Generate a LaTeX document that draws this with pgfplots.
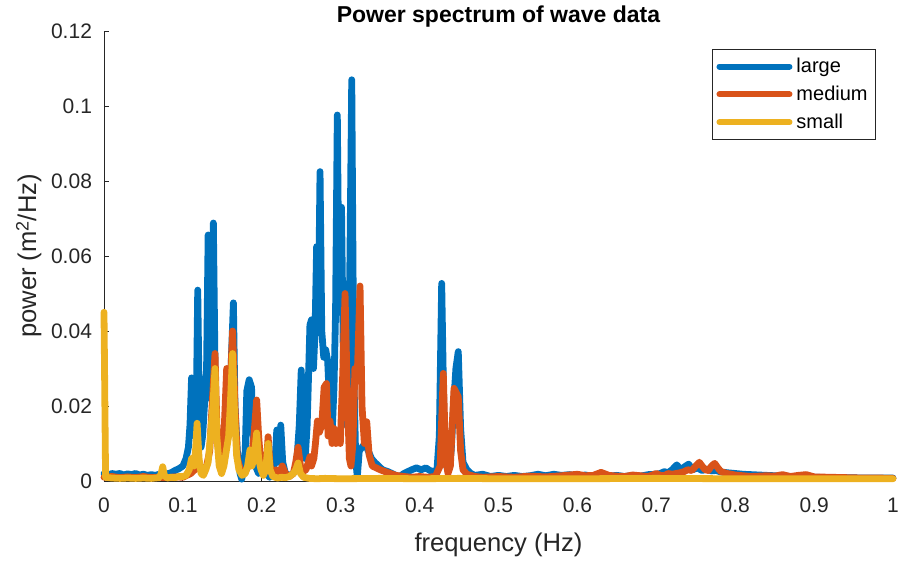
\documentclass[border=0pt]{standalone}
\usepackage{pgfplots}
\pgfplotsset{compat=1.18}
\usepackage{fontspec}
\setmainfont{Liberation Sans}
\definecolor{mblue}{HTML}{0072BD}
\definecolor{morange}{HTML}{D95319}
\definecolor{myellow}{HTML}{EDB120}
\definecolor{axgray}{HTML}{262626}
\begin{document}
\begin{tikzpicture}
\begin{axis}[
  scale only axis,
  width=394.5pt, height=225pt,
  xmin=0, xmax=1, ymin=0, ymax=0.12,
  clip=false,
  axis lines=left,
  axis line style={-, axgray, line width=0.4pt},
  tick align=inside,
  major tick length=2.5pt,
  tick style={axgray, line width=0.4pt},
  xtick={0,0.1,0.2,0.3,0.4,0.5,0.6,0.7,0.8,0.9,1},
  xticklabels={0,0.1,0.2,0.3,0.4,0.5,0.6,0.7,0.8,0.9,1},
  ytick={0,0.02,0.04,0.06,0.08,0.1,0.12},
  yticklabels={0,0.02,0.04,0.06,0.08,0.1,0.12},
  tick label style={font=\fontsize{10.5}{12}\selectfont, text=axgray},
  /pgf/number format/assume math mode=true,
  xticklabel style={yshift=-5pt},
  yticklabel style={xshift=-2.5pt},
  title={\bfseries Power spectrum of wave data},
  title style={font=\fontsize{11.5}{13}\selectfont, yshift=-7.5pt},
  xlabel={frequency (Hz)},
  ylabel={power (m\raisebox{0.55ex}{\fontsize{9}{9}\selectfont 2}/Hz)},
  label style={font=\fontsize{12.8}{14}\selectfont, text=axgray},
  xlabel style={yshift=-3.2pt},
  ylabel style={yshift=-2pt},
  legend style={at={(1,1)}, anchor=north east, xshift=-8.5pt, yshift=-9.2pt,
    draw=axgray, line width=0.4pt, font=\fontsize{10}{12}\selectfont,
    inner xsep=2pt, inner ysep=2pt, row sep=1.2pt, legend cell align=left},
  legend image code/.code={\draw[#1, line width=3pt] (0pt,0pt) -- (35pt,0pt);},
  every axis plot/.append style={line width=3.4pt, line join=round, line cap=round},
]
\addplot[mblue] coordinates {
(0,0.002)(0.005,0.0015)(0.01,0.002)(0.015,0.0018)(0.02,0.002)(0.025,0.0016)(0.03,0.0019)(0.035,0.0017)(0.04,0.002)(0.045,0.0016)(0.05,0.0018)(0.055,0.0015)(0.06,0.0017)(0.065,0.0015)(0.07,0.0018)(0.075,0.0016)(0.08,0.0019)(0.085,0.0022)(0.09,0.0028)(0.095,0.0033)(0.1,0.004)(0.104,0.006)(0.107,0.009)(0.109,0.015)(0.111,0.0275)(0.113,0.013)(0.115,0.012)(0.117,0.02)(0.1188,0.0509)(0.121,0.016)(0.123,0.009)(0.125,0.012)(0.128,0.0225)(0.130,0.03)(0.132,0.0656)(0.1345,0.022)(0.1365,0.04)(0.1386,0.0688)(0.141,0.025)(0.143,0.012)(0.146,0.007)(0.149,0.004)(0.152,0.006)(0.155,0.012)(0.158,0.02)(0.161,0.03)(0.164,0.0475)(0.166,0.02)(0.169,0.008)(0.1725,0.002)(0.1745,0.0005)(0.177,0.003)(0.179,0.008)(0.181,0.024)(0.184,0.027)(0.187,0.025)(0.189,0.01)(0.192,0.004)(0.196,0.002)(0.2,0.003)(0.205,0.002)(0.21,0.001)(0.214,0.002)(0.217,0.006)(0.219,0.0136)(0.2215,0.005)(0.224,0.0149)(0.2265,0.005)(0.23,0.002)(0.235,0.0015)(0.24,0.002)(0.244,0.004)(0.2475,0.015)(0.250,0.0296)(0.2525,0.01)(0.255,0.006)(0.2575,0.015)(0.2595,0.03)(0.261,0.0416)(0.263,0.043)(0.2655,0.03)(0.2675,0.04)(0.2695,0.0625)(0.2715,0.04)(0.2738,0.0825)(0.276,0.04)(0.2785,0.033)(0.281,0.035)(0.2835,0.032)(0.286,0.02)(0.289,0.012)(0.2915,0.025)(0.2935,0.045)(0.2957,0.0976)(0.298,0.045)(0.301,0.073)(0.3035,0.03)(0.3065,0.015)(0.309,0.03)(0.3115,0.055)(0.314,0.107)(0.3165,0.03)(0.319,0.006)(0.321,0.001)(0.3235,0.008)(0.327,0.009)(0.331,0.01)(0.335,0.008)(0.339,0.006)(0.343,0.005)(0.348,0.004)(0.353,0.003)(0.36,0.0025)(0.365,0.002)(0.37,0.0015)(0.375,0.0012)(0.38,0.002)(0.385,0.0025)(0.39,0.003)(0.396,0.0035)(0.402,0.003)(0.408,0.0035)(0.413,0.0028)(0.418,0.0025)(0.422,0.003)(0.425,0.012)(0.428,0.0527)(0.431,0.015)(0.434,0.004)(0.437,0.003)(0.44,0.008)(0.443,0.02)(0.446,0.03)(0.449,0.0345)(0.452,0.014)(0.455,0.005)(0.46,0.003)(0.465,0.002)(0.47,0.0015)(0.48,0.0018)(0.49,0.0012)(0.5,0.0015)(0.51,0.0012)(0.52,0.0015)(0.53,0.0012)(0.54,0.0014)(0.55,0.0018)(0.56,0.0014)(0.57,0.0018)(0.58,0.0015)(0.59,0.0017)(0.6,0.0013)(0.61,0.0016)(0.62,0.0012)(0.63,0.0015)(0.64,0.0013)(0.65,0.0015)(0.66,0.0012)(0.67,0.0015)(0.68,0.0013)(0.69,0.0017)(0.7,0.0018)(0.705,0.002)(0.71,0.0025)(0.715,0.0022)(0.72,0.003)(0.726,0.0043)(0.731,0.003)(0.736,0.0038)(0.741,0.0045)(0.746,0.003)(0.752,0.0035)(0.758,0.0028)(0.764,0.0032)(0.77,0.0027)(0.776,0.0028)(0.782,0.0024)(0.79,0.0022)(0.8,0.002)(0.81,0.0018)(0.82,0.0017)(0.83,0.0016)(0.84,0.0015)(0.85,0.0014)(0.86,0.0013)(0.87,0.0012)(0.88,0.0012)(0.89,0.0011)(0.9,0.001)(0.92,0.0009)(0.94,0.0009)(0.96,0.0008)(0.98,0.0008)(1,0.0008)
};
\addlegendentry{large}
\addplot[morange] coordinates {
(0,0.001)(0.01,0.0012)(0.02,0.0009)(0.03,0.0011)(0.04,0.0009)(0.05,0.0012)(0.06,0.0009)(0.07,0.001)(0.08,0.0009)(0.09,0.0011)(0.1,0.001)(0.105,0.0015)(0.11,0.002)(0.115,0.003)(0.12,0.004)(0.125,0.003)(0.13,0.004)(0.134,0.008)(0.137,0.02)(0.1407,0.034)(0.143,0.015)(0.146,0.006)(0.149,0.005)(0.152,0.012)(0.1555,0.030)(0.158,0.012)(0.16,0.025)(0.163,0.040)(0.166,0.02)(0.169,0.006)(0.173,0.003)(0.178,0.002)(0.183,0.004)(0.187,0.006)(0.19,0.012)(0.1935,0.0216)(0.196,0.012)(0.199,0.004)(0.203,0.002)(0.206,0.005)(0.208,0.0118)(0.2105,0.004)(0.214,0.002)(0.218,0.003)(0.222,0.002)(0.226,0.004)(0.23,0.002)(0.235,0.0012)(0.24,0.002)(0.243,0.005)(0.246,0.009)(0.249,0.004)(0.252,0.0025)(0.256,0.003)(0.259,0.005)(0.261,0.0065)(0.263,0.004)(0.266,0.006)(0.268,0.01)(0.2705,0.016)(0.273,0.013)(0.276,0.015)(0.279,0.025)(0.282,0.026)(0.284,0.012)(0.2865,0.016)(0.289,0.01)(0.2915,0.014)(0.294,0.01)(0.297,0.013)(0.2995,0.01)(0.3025,0.028)(0.3055,0.050)(0.3085,0.022)(0.311,0.006)(0.313,0.004)(0.3155,0.01)(0.318,0.03)(0.321,0.028)(0.3245,0.052)(0.327,0.02)(0.33,0.01)(0.333,0.0158)(0.336,0.007)(0.34,0.004)(0.345,0.0035)(0.35,0.003)(0.36,0.0022)(0.37,0.0015)(0.38,0.0012)(0.39,0.001)(0.4,0.0012)(0.41,0.001)(0.42,0.0012)(0.426,0.004)(0.430,0.0287)(0.433,0.006)(0.436,0.002)(0.439,0.004)(0.4436,0.0247)(0.449,0.0225)(0.452,0.008)(0.455,0.003)(0.46,0.0018)(0.47,0.0012)(0.48,0.001)(0.5,0.0012)(0.52,0.001)(0.54,0.0013)(0.56,0.0011)(0.58,0.0014)(0.6,0.0018)(0.61,0.0014)(0.62,0.0015)(0.63,0.0023)(0.64,0.0015)(0.65,0.0013)(0.66,0.0012)(0.67,0.0016)(0.68,0.0014)(0.69,0.0012)(0.70,0.002)(0.705,0.0015)(0.71,0.0014)(0.715,0.002)(0.72,0.0018)(0.725,0.002)(0.73,0.0022)(0.735,0.0025)(0.74,0.003)(0.745,0.0028)(0.75,0.004)(0.7545,0.005)(0.758,0.004)(0.762,0.003)(0.766,0.0028)(0.77,0.004)(0.774,0.0047)(0.778,0.0035)(0.782,0.0025)(0.79,0.002)(0.8,0.0016)(0.81,0.0014)(0.82,0.0012)(0.83,0.0013)(0.84,0.0014)(0.85,0.0013)(0.86,0.0017)(0.87,0.0012)(0.88,0.0015)(0.89,0.0017)(0.9,0.0011)(0.92,0.001)(0.94,0.0009)(0.96,0.0008)(0.98,0.0008)(1,0.0007)
};
\addlegendentry{medium}
\addplot[myellow] coordinates {
(0,0.045)(0.002,0.001)(0.01,0.0008)(0.02,0.0007)(0.03,0.0008)(0.04,0.0007)(0.05,0.0008)(0.06,0.0007)(0.07,0.0009)(0.0725,0.002)(0.0744,0.0038)(0.0765,0.0015)(0.08,0.0008)(0.085,0.001)(0.09,0.0009)(0.095,0.0012)(0.1,0.0012)(0.104,0.0015)(0.108,0.003)(0.111,0.006)(0.114,0.004)(0.116,0.008)(0.118,0.0154)(0.1205,0.006)(0.123,0.002)(0.126,0.0015)(0.129,0.003)(0.132,0.005)(0.135,0.012)(0.138,0.02)(0.1407,0.030)(0.143,0.012)(0.146,0.004)(0.149,0.002)(0.152,0.004)(0.155,0.008)(0.158,0.012)(0.16,0.02)(0.163,0.034)(0.1655,0.018)(0.168,0.007)(0.171,0.003)(0.175,0.0015)(0.179,0.002)(0.182,0.004)(0.185,0.0083)(0.1875,0.004)(0.19,0.006)(0.1935,0.0128)(0.196,0.006)(0.199,0.003)(0.202,0.0015)(0.205,0.003)(0.208,0.010)(0.2105,0.003)(0.214,0.0012)(0.22,0.0008)(0.225,0.001)(0.23,0.0009)(0.235,0.0012)(0.24,0.002)(0.243,0.003)(0.246,0.0048)(0.249,0.002)(0.253,0.001)(0.26,0.0007)(0.27,0.0006)(0.28,0.0007)(0.3,0.0006)(0.35,0.0007)(0.4,0.0006)(0.45,0.0007)(0.5,0.0006)(0.6,0.0006)(0.7,0.0007)(0.8,0.0006)(0.9,0.0006)(1,0.0006)
};
\addlegendentry{small}
\end{axis}
\pgfresetboundingbox
\path ([xshift=-52pt,yshift=-41pt]current axis.south west) rectangle ([xshift=3pt,yshift=15.5pt]current axis.north east);
\end{tikzpicture}
\end{document}
